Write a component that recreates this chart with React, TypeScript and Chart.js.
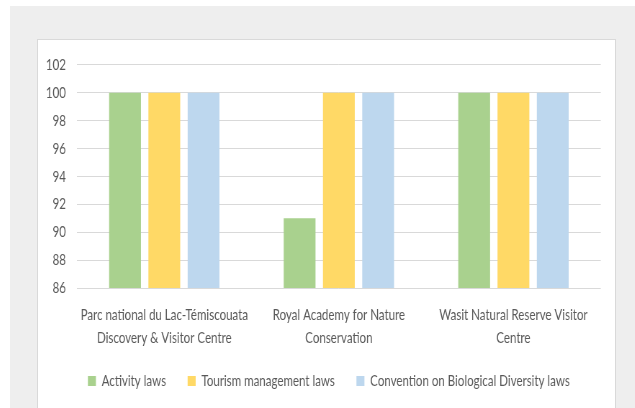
import React, { useEffect, useRef } from "react";
import { Chart, registerables } from "chart.js";

Chart.register(...registerables);

const categories: string[][] = [
  ["Parc national du Lac-Témiscouata", "Discovery & Visitor Centre"],
  ["Royal Academy for Nature", "Conservation"],
  ["Wasit Natural Reserve Visitor", "Centre"],
];
const seriesNames = ["Activity laws", "Tourism management laws", "Convention on Biological Diversity laws"];
const activityLaws = [100, 91, 100];
const tourismLaws = [100, 100, 100];
const cbdLaws = [100, 100, 100];
const seriesColors = ["#a9d18e", "#ffd966", "#bdd7ee"];
const yMin = 86;
const yMax = 102;
const yStep = 2;

const FONT = "Lato, 'Open Sans', sans-serif";
const TEXT = "#595959";
const SQ = 0.72; // horizontal condensation of the whole picture
const BOX_W = 577;
const BOX_H = 368;
const LW = Math.round(BOX_W / SQ);

const legendShift = {
  id: "legendShift",
  afterLayout(chart: any) {
    const lg = chart.legend;
    if (!lg) return;
    const dx = 9.5 / SQ;
    const dy = -9;
    lg.left += dx;
    lg.right += dx;
    lg.top += dy;
    lg.bottom += dy;
  },
};

export default function App() {
  const ref = useRef<HTMLCanvasElement | null>(null);
  useEffect(() => {
    if (!ref.current) return;
    const values = [activityLaws, tourismLaws, cbdLaws];
    const chart = new Chart(ref.current, {
      type: "bar",
      data: {
        labels: categories,
        datasets: seriesNames.map((name, i) => ({
          label: name,
          data: values[i],
          backgroundColor: seriesColors[i],
          borderWidth: 0,
          categoryPercentage: 0.675,
          barPercentage: 0.81,
        })),
      },
      plugins: [legendShift],
      options: {
        responsive: false,
        animation: false,
        layout: { padding: { left: 0, right: 14 / SQ, top: 22, bottom: 0 } },
        plugins: {
          tooltip: { enabled: false },
          legend: {
            position: "bottom",
            labels: {
              boxWidth: 8 / SQ,
              boxHeight: 10,
              padding: 30,
              color: TEXT,
              font: { family: FONT, size: 16 },
            },
          },
        },
        scales: {
          x: {
            grid: { display: false, drawTicks: false },
            border: { display: false },
            ticks: {
              color: TEXT,
              font: { family: FONT, size: 16, lineHeight: 1.44 },
              padding: 15,
              maxRotation: 0,
              autoSkip: false,
            },
            afterFit: (s: any) => {
              s.height = 64;
            },
          },
          y: {
            min: yMin,
            max: yMax,
            grid: { color: "#d9d9d9", lineWidth: 1, drawTicks: false },
            border: { display: false },
            ticks: {
              stepSize: yStep,
              color: TEXT,
              padding: 11 / SQ,
              font: { family: FONT, size: 16 },
            },
            afterFit: (s: any) => {
              s.width = 39 / SQ;
            },
          },
        },
      },
    });
    return () => chart.destroy();
  }, []);

  return (
    <div>
      <div
        style={{
          position: "absolute",
          left: 10,
          top: 6,
          width: 625,
          height: 402,
          background: "#eeeeee",
        }}
      />
      <div
        style={{
          position: "absolute",
          left: 37,
          top: 39,
          width: BOX_W,
          height: BOX_H,
          border: "1px solid #d9d9d9",
          borderBottom: "none",
          background: "#ffffff",
          overflow: "hidden",
        }}
      >
        <canvas
          ref={ref}
          width={LW}
          height={BOX_H}
          style={{ display: "block", transform: `scaleX(${SQ})`, transformOrigin: "0 0" }}
        />
      </div>
    </div>
  );
}
